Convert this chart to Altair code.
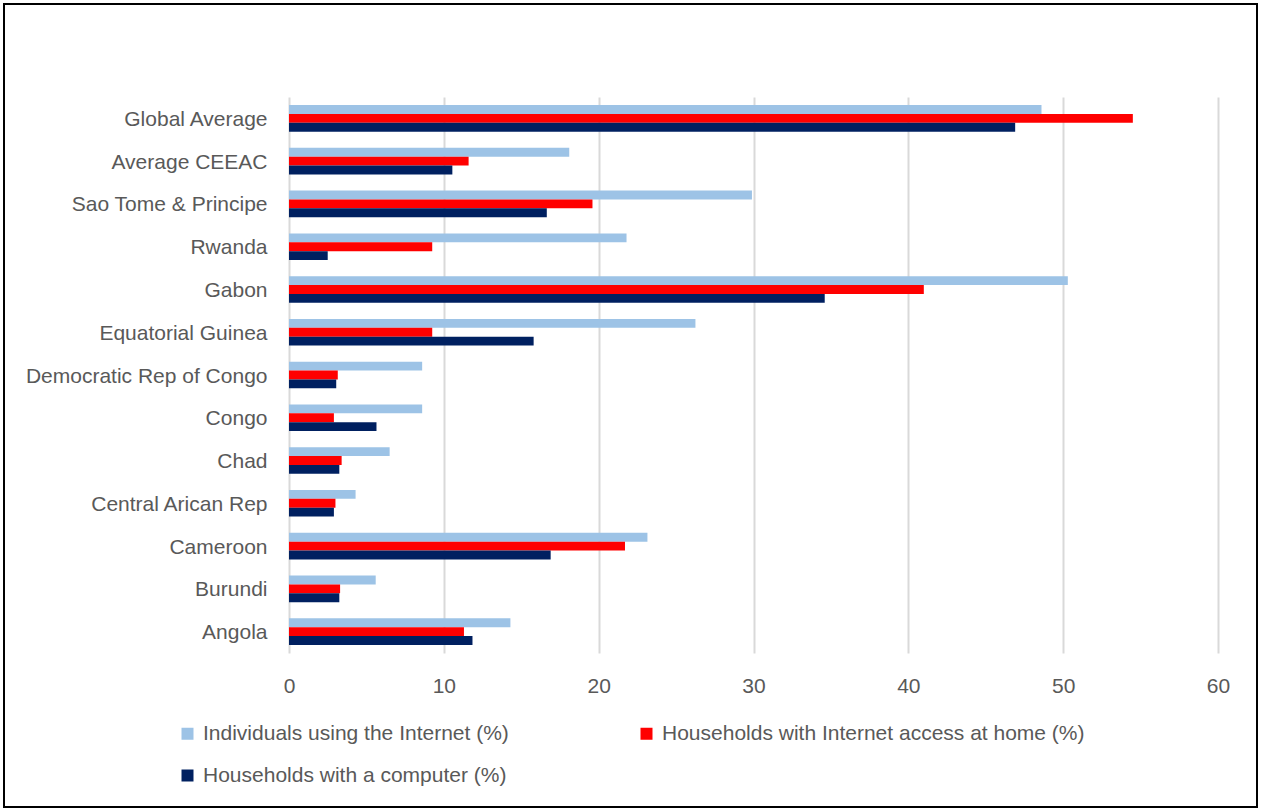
import altair as alt
import pandas as pd

categories = ["Global Average", "Average CEEAC", "Sao Tome & Principe", "Rwanda", "Gabon",
              "Equatorial Guinea", "Democratic Rep of Congo", "Congo", "Chad",
              "Central Arican Rep", "Cameroon", "Burundi", "Angola"]
series = ["Individuals using the Internet (%)",
          "Households with Internet access at home (%)",
          "Households with a computer (%)"]
individuals = [48.6, 18.1, 29.9, 21.8, 50.3, 26.25, 8.6, 8.6, 6.5, 4.3, 23.15, 5.6, 14.3]
internet_home = [54.5, 11.6, 19.6, 9.25, 41.0, 9.25, 3.15, 2.9, 3.4, 3.0, 21.7, 3.3, 11.3]
computer = [46.9, 10.55, 16.65, 2.5, 34.6, 15.8, 3.05, 5.65, 3.25, 2.9, 16.9, 3.25, 11.85]
colors = ["#9DC3E6", "#FF0000", "#002060"]
x_ticks = [0, 10, 20, 30, 40, 50, 60]

rows = []
for vals, s in zip([individuals, internet_home, computer], series):
    for c, v in zip(categories, vals):
        rows.append({"Country": c, "Series": s, "Value": v})
df = pd.DataFrame(rows)

# legend entries are laid out column by column: order them so that they read row by row
legend_order = [series[0], series[2], series[1]]
legend_colors = [colors[0], colors[2], colors[1]]

FONT = "Liberation Sans"
GREY = "#595959"

bars = alt.Chart(df).mark_bar().encode(
    y=alt.Y("Country:N", sort=categories,
            scale=alt.Scale(paddingInner=0.378, paddingOuter=0.189),
            axis=alt.Axis(title=None, ticks=False, domain=False, labelPadding=22,
                          labelOffset=1.5,
                          labelFontSize=21, labelFont=FONT, labelColor=GREY,
                          labelLimit=400)),
    yOffset=alt.YOffset("Series:N", sort=series),
    x=alt.X("Value:Q", scale=alt.Scale(domain=[0, 60], nice=False),
            axis=alt.Axis(title=None, values=x_ticks, ticks=False, domain=False,
                          labelPadding=22, labelFontSize=21, labelFont=FONT,
                          labelColor=GREY, labelFlush=False, grid=True,
                          gridColor="#d9d9d9", gridWidth=2)),
    color=alt.Color("Series:N",
                    scale=alt.Scale(domain=legend_order, range=legend_colors),
                    legend=alt.Legend(title=None, orient="none", legendX=-112,
                                      legendY=626, columns=2, gridAlign="each",
                                      columnPadding=127, rowPadding=20,
                                      symbolType="square", symbolSize=144,
                                      symbolStrokeWidth=0, labelOffset=5,
                                      labelFontSize=21, labelFont=FONT,
                                      labelColor=GREY, labelLimit=600)),
)

frame = alt.Chart(pd.DataFrame({"a": [0]})).mark_rect(
    fill=None, stroke="#000000", strokeWidth=2, clip=False
).encode(
    x=alt.value(-285), x2=alt.value(968),
    y=alt.value(-93), y2=alt.value(710),
)

chart = alt.layer(bars, frame).properties(
    width=929, height=556,
    autosize=alt.AutoSizeParams(type="none"),
    padding={"left": 289, "top": 97, "right": 43, "bottom": 159},
    background="white",
).configure_view(stroke=None)

chart.save("out.html", embed_options={"renderer": "svg", "actions": False})
